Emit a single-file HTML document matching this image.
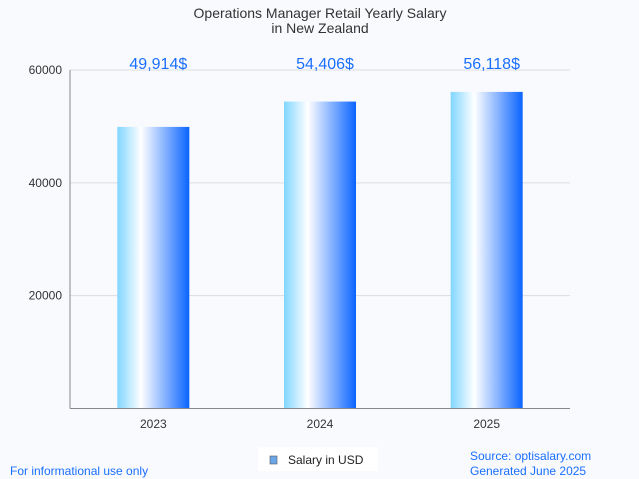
<!DOCTYPE html>
<html><head><meta charset="utf-8"><style>
body{margin:0;background:#f9fafd;font-family:"Liberation Sans",sans-serif}
svg{display:block}
</style></head><body>
<svg width="639" height="479" xmlns="http://www.w3.org/2000/svg">
<defs><linearGradient id="g" x1="0" x2="1" y1="0" y2="0">
<stop offset="0" stop-color="#80d6ff"/><stop offset="0.33" stop-color="#ffffff"/><stop offset="1" stop-color="#0a64ff"/>
</linearGradient></defs>
<rect width="639" height="479" fill="#f9fafd"/>
<text x="320" y="18" text-anchor="middle" font-size="14" fill="#333">Operations Manager Retail Yearly Salary</text>
<text x="320" y="33" text-anchor="middle" font-size="14" fill="#333">in New Zealand</text>
<g id="grid"></g><g id="bars"></g>
<line x1="70" y1="70" x2="70" y2="408.5" stroke="#888"/>
<line x1="70" y1="408.5" x2="570" y2="408.5" stroke="#888"/>
<g>
<rect x="258" y="447" width="120" height="24" fill="#fff"/>
<rect x="270" y="456" width="7" height="8" fill="#6aa6e8" stroke="#555" stroke-width="0.6"/>
<text x="288" y="464" font-size="12" fill="#222">Salary in USD</text>
</g>
<text x="10" y="475" font-size="12" fill="#1a6fff">For informational use only</text>
<text x="470" y="460" font-size="12" fill="#1a6fff">Source: optisalary.com</text>
<text x="470" y="475" font-size="12" fill="#1a6fff">Generated June 2025</text>
</svg>
<script>
const categories=["2023","2024","2025"];
const values=[49914,54406,56118];
const labels=["49,914$","54,406$","56,118$"];
const yTicks=[20000,40000,60000];
const NS="http://www.w3.org/2000/svg";
const x0=70,x1=570,yB=408.5,yT=70,yMax=60000;
const y=v=>yB-(v/yMax)*(yB-yT);
const band=(x1-x0)/categories.length;
const xc=i=>x0+band*(i+0.5);
function mk(t,a,p){const e=document.createElementNS(NS,t);for(const k in a)e.setAttribute(k,a[k]);p.appendChild(e);return e;}
const grid=document.getElementById('grid'),bars=document.getElementById('bars');
yTicks.forEach(t=>{
 const l=mk('line',{x1:x0,x2:x1,y1:y(t),y2:y(t),stroke:'#ddd'},grid);
 
 
 const tx=mk('text',{x:62,y:y(t)+4,'text-anchor':'end','font-size':12,fill:'#333'},grid);
 tx.textContent=t;
 
 
});
const bw=72;
categories.forEach((c,i)=>{
 const r=mk('rect',{x:xc(i)-bw/2,y:y(values[i]),width:bw,height:yB-y(values[i]),fill:'url(#g)'},bars);
 
 
 const v=mk('text',{x:xc(i)+5,y:69,'text-anchor':'middle','font-size':16,fill:'#1a6fff'},bars);
 v.textContent=labels[i];
 
 
 const xl=mk('text',{x:xc(i),y:428,'text-anchor':'middle','font-size':12,fill:'#333'},bars);
 xl.textContent=c;
 
 
});
</script>
</body></html>
